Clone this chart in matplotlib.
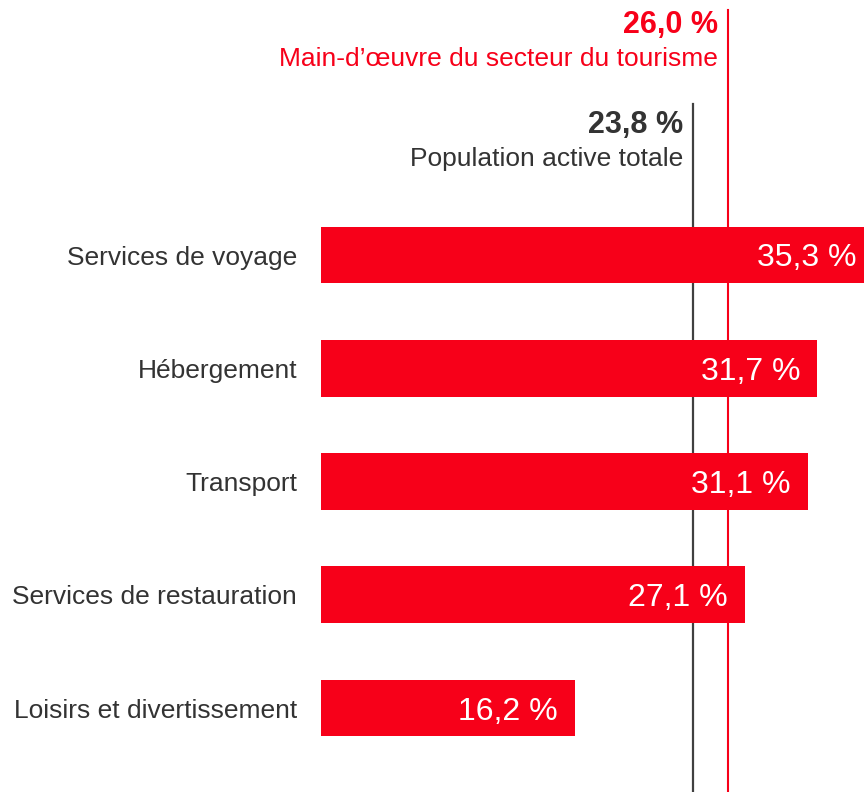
import numpy as np
import matplotlib as mpl
import matplotlib.pyplot as plt

categories = ["Services de voyage", "Hébergement", "Transport",
              "Services de restauration", "Loisirs et divertissement"]
values = [35.3, 31.7, 31.1, 27.1, 16.2]

total_value = 23.8
total_label = "Population active totale"
tourism_value = 26.0
tourism_label = "Main-d\u2019\u0153uvre du secteur du tourisme"

RED = "#f70019"
DARK = "#333333"


def fmt(v):
    return f"{v:.1f}".replace(".", ",") + " %"


def main():
    mpl.rcParams["font.family"] = ["Liberation Sans", "DejaVu Sans"]
    W, H = 864, 792
    fig = plt.figure(figsize=(W / 100, H / 100), dpi=100)

    # axes span from the bar origin to the right edge of the figure
    x0 = 321
    ax = fig.add_axes([x0 / W, 0, 1 - x0 / W, 1])
    px_per_unit = 15.65
    ax.set_xlim(0, (W - x0) / px_per_unit)
    step = 113.25
    ax.set_ylim((H - 255) / step, -255 / step)
    ax.axis("off")

    y = np.arange(len(categories))
    ax.barh(y, values, height=0.5, color=RED, zorder=2)

    for yi, v, c in zip(y, values, categories):
        ax.annotate(fmt(v), (v, yi), xytext=(-17, 0), textcoords="offset pixels",
                    ha="right", va="center_baseline", color="white", fontsize=23,
                    annotation_clip=False)
        ax.annotate(c, (0, yi), xytext=(-24, 0), textcoords="offset pixels",
                    ha="right", va="center_baseline", color=DARK, fontsize=19,
                    annotation_clip=False)

    # reference lines
    ax.axvline(total_value, ymin=0, ymax=1 - 104 / H, color="#404040", lw=1.6, zorder=1)
    ax.axvline(tourism_value, ymin=0, ymax=1 - 10 / H, color=RED, lw=1.5, zorder=1)

    tr = ax.get_xaxis_transform()
    ax.annotate(fmt(tourism_value), (tourism_value, 1 - 33 / H), xycoords=tr,
                xytext=(-10, 0), textcoords="offset pixels", ha="right",
                va="baseline", color=RED, fontsize=22, fontweight="bold",
                annotation_clip=False)
    ax.annotate(tourism_label, (tourism_value, 1 - 66 / H), xycoords=tr,
                xytext=(-10, 0), textcoords="offset pixels", ha="right",
                va="baseline", color=RED, fontsize=19, annotation_clip=False)
    ax.annotate(fmt(total_value), (total_value, 1 - 133 / H), xycoords=tr,
                xytext=(-10, 0), textcoords="offset pixels", ha="right",
                va="baseline", color=DARK, fontsize=22, fontweight="bold",
                annotation_clip=False)
    ax.annotate(total_label, (total_value, 1 - 166 / H), xycoords=tr,
                xytext=(-10, 0), textcoords="offset pixels", ha="right",
                va="baseline", color=DARK, fontsize=19, annotation_clip=False)

    fig.savefig("out.png", dpi=100)


if __name__ == '__main__':
    main()
